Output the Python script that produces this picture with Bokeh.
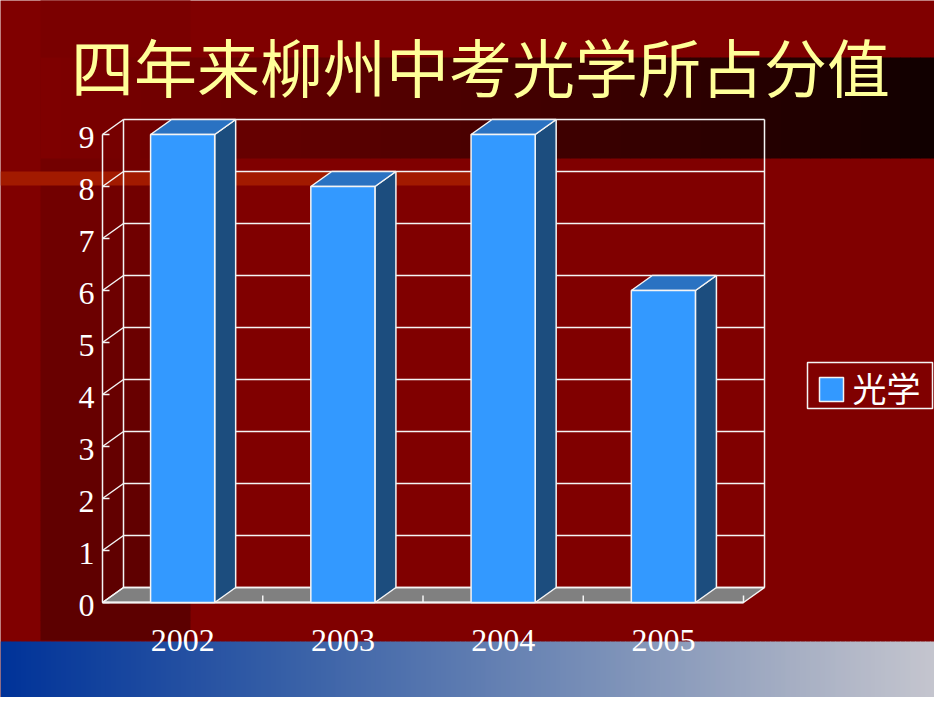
from bokeh.plotting import figure
from bokeh.models import Range1d, ColumnDataSource
from bokeh.core.properties import value
from bokeh.embed import file_html
from bokeh.resources import INLINE

# chart data
years = ["2002", "2003", "2004", "2005"]
scores = [9, 8, 9, 6]
y_ticks = [0, 1, 2, 3, 4, 5, 6, 7, 8, 9]
series_name = "光学"
title_text = "四年来柳州中考光学所占分值"

W, H = 934, 697

# slide pixel -> data units (front floor edge is y=0, category i spans i..i+1)
X0, SX = 102.0, 160.25
Y0, SY = 602.0, 52.0


def ux(px):
    return (px - X0) / SX


def uy(py):
    return (Y0 - py) / SY


DX, DY = 21 / SX, 15 / SY  # 3d depth
HW = 0.2  # half bar width
WHITE = "#f4f4f4"


def rgb(r, g, b):
    return "#%02x%02x%02x" % (int(r), int(g), int(b))


def ramp(stops, t):
    for (t0, c0), (t1, c1) in zip(stops, stops[1:]):
        if t <= t1:
            f = (t - t0) / (t1 - t0) if t1 > t0 else 0
            return rgb(*[a + (b - a) * f for a, b in zip(c0, c1)])
    return rgb(*stops[-1][1])


p = figure(
    width=W, height=H,
    x_range=Range1d(ux(0), ux(W)),
    y_range=Range1d(uy(H), uy(0)),
    x_axis_type=None, y_axis_type=None,
    toolbar_location=None, output_backend="svg",
    min_border=0,
    background_fill_color="#800000",
    border_fill_color="#800000",
    outline_line_color=None,
)
p.grid.visible = False

# --- slide background decoration ---
# darker vertical strip on the left
l, r, t, b, c = [], [], [], [], []
for y in range(0, 640, 10):
    l.append(ux(40)); r.append(ux(190))
    t.append(uy(y - 0.5)); b.append(uy(min(y + 10, 640)))
    c.append(rgb(124 - (y + 5) * 0.05, 0, 0))
p.quad(left=l, right=r, top=t, bottom=b, fill_color=c, line_color=None)

# dark band behind the title, fading to black on the right
l, r, t, b, c = [], [], [], [], []
for x in range(40, 950, 10):
    l.append(ux(x)); r.append(ux(x + 10.5))
    t.append(uy(57)); b.append(uy(158))
    c.append(rgb(max(14, 128 - (x + 5 - 40) * 0.125), 0, 0))
p.quad(left=l, right=r, top=t, bottom=b, fill_color=c, line_color=None)

# thin orange strip
p.quad(left=[ux(0)], right=[ux(470)], top=[uy(171)], bottom=[uy(185)],
       fill_color="#a21a00", line_color=None)

# blue-grey gradient bar at the bottom
stops = [(0, (0, 51, 153)), (300, (58, 98, 168)), (600, (122, 144, 184)),
         (800, (168, 176, 196)), (950, (200, 200, 208))]
l, r, t, b, c = [], [], [], [], []
for x in range(0, 950, 5):
    l.append(ux(x)); r.append(ux(x + 5.5))
    t.append(uy(641)); b.append(uy(720))
    c.append(ramp(stops, x + 2.5))
p.quad(left=l, right=r, top=t, bottom=b, fill_color=c, line_color=None)

# --- 3d chart frame ---
n = len(years)
ymax = y_ticks[-1]

# floor
p.patch([0, n, n + DX, DX], [0, 0, DY, DY], fill_color="#808080",
        line_color=WHITE, line_width=1.5)

# back wall grid lines
p.segment(x0=[DX] * len(y_ticks), y0=[v + DY for v in y_ticks],
          x1=[n + DX] * len(y_ticks), y1=[v + DY for v in y_ticks],
          line_color=WHITE, line_width=1.5)
# side wall diagonals
p.segment(x0=[0] * len(y_ticks), y0=y_ticks,
          x1=[DX] * len(y_ticks), y1=[v + DY for v in y_ticks],
          line_color=WHITE, line_width=1.5)
# wall verticals
p.segment(x0=[0, DX, n + DX], y0=[0, DY, DY], x1=[0, DX, n + DX],
          y1=[ymax, ymax + DY, ymax + DY], line_color=WHITE, line_width=1.5)
# y tick marks
p.segment(x0=[0] * len(y_ticks), y0=y_ticks, x1=[7 / SX] * len(y_ticks),
          y1=y_ticks, line_color=WHITE, line_width=1.5)
# x tick marks
p.segment(x0=list(range(1, n + 1)), y0=[0] * n, x1=list(range(1, n + 1)),
          y1=[7 / SY] * n, line_color=WHITE, line_width=1.5)
# front floor edge
p.segment(x0=[0], y0=[0], x1=[n], y1=[0], line_color=WHITE, line_width=2)

# --- bars ---
centers = [i + 0.5 for i in range(n)]
src = ColumnDataSource(dict(
    left=[cx - HW for cx in centers],
    right=[cx + HW for cx in centers],
    top=scores,
    bottom=[0] * n,
))
top_xs, top_ys, side_xs, side_ys = [], [], [], []
for cx, v in zip(centers, scores):
    a, z = cx - HW, cx + HW
    top_xs.append([a, z, z + DX, a + DX])
    top_ys.append([v, v, v + DY, v + DY])
    side_xs.append([z, z + DX, z + DX, z])
    side_ys.append([0, DY, v + DY, v])

p.patches(side_xs, side_ys, fill_color="#1c4d7e", line_color=WHITE, line_width=1.5)
p.patches(top_xs, top_ys, fill_color="#2a72c2", line_color=WHITE, line_width=1.5)
p.quad(left="left", right="right", top="top", bottom="bottom", source=src,
       fill_color="#3399ff", line_color=WHITE, line_width=1.5)

# --- texts ---
serif = value("Liberation Serif")
p.text(x=[ux(94)] * len(y_ticks), y=y_ticks, text=[str(v) for v in y_ticks],
       text_font=serif, text_font_size="32px", text_color="white",
       text_align="right", text_baseline="middle", y_offset=3)
p.text(x=centers, y=[uy(640)] * n, text=years,
       text_font=serif, text_font_size="32px", text_color="white",
       text_align="center", text_baseline="alphabetic")
p.text(x=[ux(480)], y=[uy(64)], text=[title_text],
       text_font=value("Noto Sans CJK SC"), text_font_size="63px",
       text_color="#ffff99", text_align="center", text_baseline="middle")

# legend box
p.quad(left=[ux(807)], right=[ux(932)], top=[uy(362)], bottom=[uy(408)],
       fill_alpha=0, line_color=WHITE, line_width=1.5)
p.quad(left=[ux(819)], right=[ux(843)], top=[uy(377)], bottom=[uy(401)],
       fill_color="#3399ff", line_color=WHITE, line_width=1.5)
p.text(x=[ux(852)], y=[uy(387)], text=[series_name],
       text_font=value("Noto Sans CJK SC"), text_font_size="34px",
       text_color="white", text_align="left", text_baseline="middle")

open("out.html", "w").write(file_html(p, INLINE))
